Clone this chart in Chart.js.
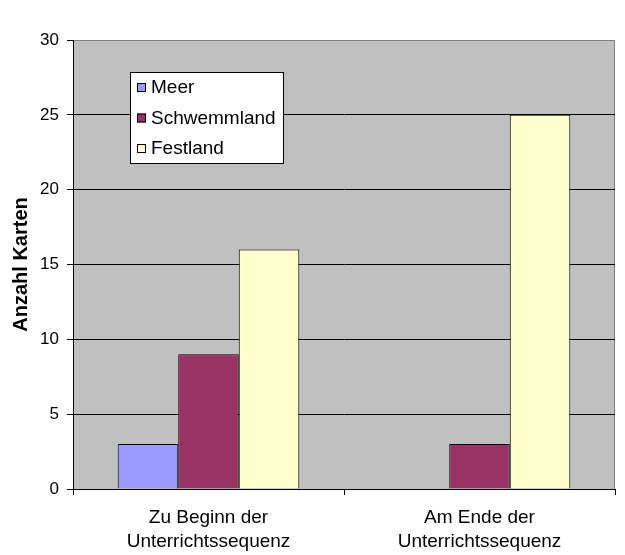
<!DOCTYPE html>
<html>
<head>
<meta charset="utf-8">
<script src="https://cdn.jsdelivr.net/npm/chart.js@4.4.1/dist/chart.umd.min.js"></script>
<style>
  html, body { margin: 0; padding: 0; background: #fff; }
  #wrap { width: 625px; height: 555px; }
</style>
</head>
<body>
<div id="wrap"><canvas id="chart" width="625" height="555"></canvas></div>
<script>
// Daten aus dem Diagramm
const categories = [['Zu Beginn der', 'Unterrichtssequenz'], ['Am Ende der', 'Unterrichtssequenz']];
const seriesNames = ['Meer', 'Schwemmland', 'Festland'];
const meer = [3, 0];
const schwemmland = [9, 3];
const festland = [16, 25];
const yTicks = [0, 5, 10, 15, 20, 25, 30];

const colors = ['#9999FF', '#993366', '#FFFFCC'];
const font = 'Liberation Sans, Arial, sans-serif';

// grauer Hintergrund der Zeichenfläche
const plotBg = {
    id: 'plotBg',
    beforeDraw(chart) {
        const { ctx, chartArea: a } = chart;
        ctx.save();
        ctx.fillStyle = '#C0C0C0';
        ctx.fillRect(a.left, a.top, a.right - a.left, a.bottom - a.top);
        ctx.strokeStyle = '#808080';
        ctx.lineWidth = 1;
        ctx.strokeRect(a.left + 0.5, a.top + 0.5, a.right - a.left - 1, a.bottom - a.top);
        ctx.restore();
    }
};

// Legende innerhalb der Zeichenfläche
const innerLegend = {
    id: 'innerLegend',
    afterDraw(chart) {
        const { ctx } = chart;
        const x = 130, y = 72, w = 153, h = 91;
        ctx.save();
        ctx.fillStyle = '#fff';
        ctx.fillRect(x, y, w, h);
        ctx.strokeStyle = '#000';
        ctx.lineWidth = 1;
        ctx.strokeRect(x + 0.5, y + 0.5, w, h);
        ctx.font = '19px ' + font;
        ctx.textBaseline = 'middle';
        chart.data.datasets.forEach((ds, i) => {
            const cy = y + 15 + i * 30.5;
            ctx.fillStyle = ds.backgroundColor;
            ctx.fillRect(x + 7, cy - 4, 9, 9);
            ctx.strokeStyle = '#000';
            ctx.strokeRect(x + 7.5, cy - 3.5, 8, 8);
            ctx.fillStyle = '#000';
            ctx.fillText(ds.label, x + 21, cy + 1);
        });
        ctx.restore();
    }
};

const ctx = document.getElementById('chart').getContext('2d');
new Chart(ctx, {
    type: 'bar',
    data: {
        labels: categories,
        datasets: [
            { label: seriesNames[0], data: meer, backgroundColor: colors[0] },
            { label: seriesNames[1], data: schwemmland, backgroundColor: colors[1] },
            { label: seriesNames[2], data: festland, backgroundColor: colors[2] }
        ].map(d => Object.assign(d, { borderColor: '#000', borderWidth: 1, borderSkipped: 'bottom' }))
    },
    options: {
        responsive: false,
        animation: false,
        layout: { padding: { left: 9, right: 10, top: 40, bottom: 0 } },
        plugins: {
            legend: { display: false },
            tooltip: { enabled: false }
        },
        datasets: {
            bar: { categoryPercentage: 0.67, barPercentage: 1 }
        },
        scales: {
            x: {
                grid: {
                    offset: true,
                    drawOnChartArea: false,
                    tickLength: 6,
                    color: '#000'
                },
                border: { color: '#000' },
                ticks: {
                    color: '#000',
                    font: { family: font, size: 19, lineHeight: 1.3 },
                    padding: 10,
                    maxRotation: 0
                },
                afterFit(scale) { scale.height = 66; }
            },
            y: {
                min: 0,
                max: 30,
                afterBuildTicks(scale) { scale.ticks = yTicks.map(v => ({ value: v })); },
                grid: {
                    color: c => (c.tick && c.tick.value === 30) ? '#808080' : '#000',
                    tickColor: '#000',
                    tickLength: 6
                },
                border: { color: '#000' },
                ticks: {
                    color: '#000',
                    font: { family: font, size: 17 },
                    padding: 8
                },
                title: {
                    display: true,
                    text: 'Anzahl Karten',
                    color: '#000',
                    font: { family: font, size: 20, weight: 'bold' },
                    padding: 0
                },
                afterFit(scale) { scale.width = 64; }
            }
        }
    },
    plugins: [plotBg, innerLegend]
});
</script>
</body>
</html>
